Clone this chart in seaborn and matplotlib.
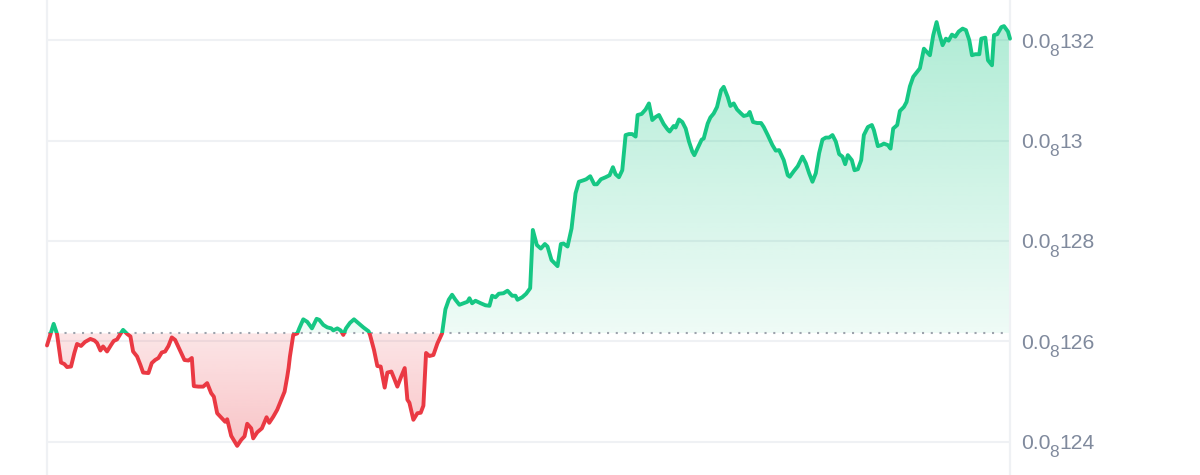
import numpy as np
import pandas as pd
import matplotlib
matplotlib.use("Agg")
import matplotlib.pyplot as plt
import seaborn as sns
from matplotlib.patches import Rectangle
from matplotlib.path import Path
from matplotlib.transforms import blended_transform_factory, ScaledTranslation

# time since start (minutes) and price (x 1e-9)
minutes = [0, 10, 15, 21, 26, 30, 36, 41, 45, 51, 57, 65, 71, 75, 80, 84, 90, 96, 100, 105,
           110, 114, 120, 125, 129, 135, 140, 144, 152, 157, 162, 167, 172, 177, 182, 187, 192, 198, 206, 212,
           217, 220, 227, 234, 240, 246, 250, 255, 262, 267, 270, 276, 285, 291, 296, 300, 306, 309, 315, 322,
           329, 333, 339, 345, 352, 356, 360, 362, 364, 369, 375, 378, 384, 390, 397, 404, 408, 414, 420, 426,
           429, 435, 440, 444, 448, 454, 460, 467, 474, 482, 484, 490, 495, 500, 506, 510, 516, 520, 525, 531,
           536, 540, 543, 549, 555, 560, 564, 568, 573, 579, 585, 592, 597, 602, 607, 612, 618, 626, 630, 633,
           637, 642, 650, 657, 663, 667, 672, 677, 684, 690, 697, 702, 705, 712, 718, 724, 728, 734, 740, 746,
           750, 756, 765, 770, 774, 780, 786, 792, 797, 804, 808, 814, 820, 824, 830, 837, 843, 848, 852, 857,
           862, 867, 872, 877, 882, 885, 891, 897, 902, 907, 912, 917, 924, 930, 933, 939, 942, 947, 952, 957,
           962, 967, 970, 977, 981, 984, 990, 994, 999, 1004, 1010, 1014, 1020, 1024, 1029, 1034, 1040, 1044, 1050, 1053,
           1058, 1064, 1070, 1074, 1080, 1087, 1092, 1097, 1104, 1110, 1113, 1119, 1125, 1132, 1137, 1142, 1147, 1152, 1157, 1162,
           1167, 1172, 1177, 1182, 1187, 1192, 1196, 1200, 1206, 1210, 1215, 1220, 1224, 1230, 1236, 1239, 1245, 1250, 1254, 1260,
           1264, 1268, 1274, 1278, 1284, 1288, 1293, 1298, 1304, 1308, 1314, 1318, 1323, 1328, 1333, 1337, 1342, 1347, 1351, 1356,
           1361, 1366, 1372, 1377, 1382, 1386, 1391, 1397, 1400, 1406, 1410, 1416, 1419, 1424, 1430, 1434, 1440, 1443]
price = [1.2592, 1.2635, 1.2615, 1.2558, 1.2555, 1.2549, 1.2550, 1.2577, 1.2595, 1.2591, 1.2599, 1.2605, 1.2602, 1.2597, 1.2582, 1.2590, 1.2580, 1.2593, 1.2601, 1.2604,
         1.2615, 1.2623, 1.2615, 1.2610, 1.2580, 1.2570, 1.2553, 1.2538, 1.2537, 1.2557, 1.2563, 1.2567, 1.2578, 1.2580, 1.2591, 1.2608, 1.2603, 1.2586, 1.2563, 1.2562,
         1.2567, 1.2511, 1.2510, 1.2510, 1.2517, 1.2497, 1.2490, 1.2457, 1.2447, 1.2440, 1.2445, 1.2412, 1.2392, 1.2404, 1.2411, 1.2436, 1.2427, 1.2407, 1.2419, 1.2427,
         1.2449, 1.2438, 1.2450, 1.2464, 1.2487, 1.2500, 1.2530, 1.2547, 1.2570, 1.2613, 1.2616, 1.2626, 1.2644, 1.2639, 1.2626, 1.2645, 1.2643, 1.2633, 1.2628, 1.2626,
         1.2622, 1.2626, 1.2622, 1.2613, 1.2626, 1.2637, 1.2644, 1.2636, 1.2628, 1.2620, 1.2613, 1.2583, 1.2551, 1.2550, 1.2508, 1.2538, 1.2540, 1.2527, 1.2510, 1.2531,
         1.2547, 1.2484, 1.2478, 1.2444, 1.2457, 1.2458, 1.2472, 1.2577, 1.2571, 1.2573, 1.2596, 1.2616, 1.2664, 1.2683, 1.2693, 1.2683, 1.2673, 1.2677, 1.2679, 1.2686,
         1.2676, 1.2681, 1.2676, 1.2672, 1.2671, 1.2691, 1.2688, 1.2695, 1.2696, 1.2701, 1.2691, 1.2691, 1.2683, 1.2688, 1.2695, 1.2706, 1.2822, 1.2792, 1.2785, 1.2794,
         1.2789, 1.2762, 1.2750, 1.2794, 1.2795, 1.2789, 1.2825, 1.2895, 1.2918, 1.2921, 1.2923, 1.2929, 1.2913, 1.2913, 1.2923, 1.2927, 1.2931, 1.2947, 1.2933, 1.2927,
         1.2941, 1.3011, 1.3013, 1.3013, 1.3008, 1.3051, 1.3053, 1.3062, 1.3074, 1.3041, 1.3047, 1.3051, 1.3033, 1.3022, 1.3018, 1.3029, 1.3026, 1.3042, 1.3037, 1.3024,
         1.2998, 1.2978, 1.2971, 1.2991, 1.3002, 1.3004, 1.3034, 1.3046, 1.3054, 1.3067, 1.3100, 1.3107, 1.3087, 1.3069, 1.3074, 1.3062, 1.3054, 1.3049, 1.3051, 1.3057,
         1.3037, 1.3035, 1.3035, 1.3027, 1.3011, 1.2991, 1.2980, 1.2981, 1.2961, 1.2931, 1.2928, 1.2939, 1.2949, 1.2968, 1.2955, 1.2935, 1.2918, 1.2935, 1.2975, 1.3002,
         1.3006, 1.3006, 1.3011, 1.2998, 1.2973, 1.2968, 1.2953, 1.2971, 1.2961, 1.2941, 1.2943, 1.2961, 1.3011, 1.3027, 1.3031, 1.3021, 1.2989, 1.2991, 1.2994, 1.2991,
         1.2984, 1.3024, 1.3031, 1.3059, 1.3067, 1.3077, 1.3108, 1.3127, 1.3137, 1.3144, 1.3183, 1.3177, 1.3170, 1.3210, 1.3236, 1.3213, 1.3190, 1.3203, 1.3199, 1.3211,
         1.3207, 1.3217, 1.3223, 1.3220, 1.3200, 1.3170, 1.3172, 1.3172, 1.3203, 1.3205, 1.3160, 1.3150, 1.3210, 1.3212, 1.3226, 1.3228, 1.3217, 1.3203]
baseline = 1.2616
tick_values = [1.24, 1.26, 1.28, 1.30, 1.32]
tick_prefix = "0.0"
tick_zero_count = "8"
tick_digits = ["124", "126", "128", "13", "132"]

GREEN = "#16c784"
RED = "#ea3943"
TEXT = "#808a9d"
GRID = "#eff1f4"

sns.set_theme(style="white")
plt.rcParams['font.family'] = ['Liberation Sans', 'DejaVu Sans']

df = pd.DataFrame({"minutes": minutes, "price": price})
t = df["minutes"].to_numpy(float)
p = df["price"].to_numpy(float)

fig = plt.figure(figsize=(12, 4.75), dpi=100)
ax = fig.add_axes([47 / 1200, 0, 963 / 1200, 1])


def gradient_fill(where, y0, y1, a0, a1, color):
    poly = ax.fill_between(t, p, baseline, where=where, interpolate=True,
                           facecolor="none", edgecolor="none")
    path = Path.make_compound_path(*poly.get_paths())
    rgb = matplotlib.colors.to_rgb(color)
    n = 256
    grad = np.zeros((n, 1, 4))
    grad[:, 0, :3] = rgb
    grad[:, 0, 3] = np.linspace(a0, a1, n)
    im = ax.imshow(grad, extent=[t[0], t[-1], y0, y1], origin="lower",
                   aspect="auto", interpolation="bilinear", zorder=1)
    im.set_clip_path(path, transform=ax.transData)


gradient_fill(p >= baseline, baseline, p.max(), 0.07, 0.34, GREEN)
gradient_fill(p <= baseline, p.min(), baseline, 0.30, 0.13, RED)

# grid lines
for v in tick_values:
    ax.axhline(v, color=GRID, lw=1.5, zorder=0.5)

# baseline (opening price)
ax.axhline(baseline, color="#9da3ad", lw=1.5, ls=(0, (1, 3.2)), zorder=2)

# price line: green above the baseline, red below
big = 10
sns.lineplot(data=df, x="minutes", y="price", ax=ax, color=GREEN, lw=2.8, zorder=3)
ax.lines[-1].set_clip_path(Rectangle((t[0] - 50, baseline), t[-1] + 100, big, transform=ax.transData))
sns.lineplot(data=df, x="minutes", y="price", ax=ax, color=RED, lw=2.8, zorder=3)
ax.lines[-1].set_clip_path(Rectangle((t[0] - 50, baseline - big), t[-1] + 100, big, transform=ax.transData))
for ln in ax.lines[-2:]:
    ln.set_solid_joinstyle("round")
    ln.set_solid_capstyle("round")

ax.set_xlim(0, 1443)
ax.set_ylim(1.2334, 1.3280)
ax.set_xlabel("")
ax.set_ylabel("")
ax.set_xticks([])
ax.set_yticks(tick_values)
ax.tick_params(axis="y", length=0, labelleft=False, labelright=False)

for s in ["top", "bottom"]:
    ax.spines[s].set_visible(False)
for s in ["left", "right"]:
    ax.spines[s].set_visible(True)
    ax.spines[s].set_color(GRID)
    ax.spines[s].set_linewidth(1.6)

# right-side price labels with subscript zero count
renderer = fig.canvas.get_renderer()
btr = blended_transform_factory(ax.transAxes, ax.transData)


def off(dx, dy):
    return btr + ScaledTranslation(dx / 100, -dy / 100, fig.dpi_scale_trans)


MAIN = 15.2
SUB = 12.4
for v, d in zip(tick_values, tick_digits):
    x = 11.5
    t1 = ax.text(1, v, tick_prefix, transform=off(x, 7.4), fontsize=MAIN, color=TEXT,
                 ha="left", va="baseline", clip_on=False)
    x += t1.get_window_extent(renderer).width - 1.5
    t2 = ax.text(1, v, tick_zero_count, transform=off(x, 15.5), fontsize=SUB, color=TEXT,
                 ha="left", va="baseline", clip_on=False)
    x += t2.get_window_extent(renderer).width + 0.3
    ax.text(1, v, d, transform=off(x, 7.4), fontsize=MAIN, color=TEXT,
            ha="left", va="baseline", clip_on=False)

fig.savefig("out.png", dpi=100)
